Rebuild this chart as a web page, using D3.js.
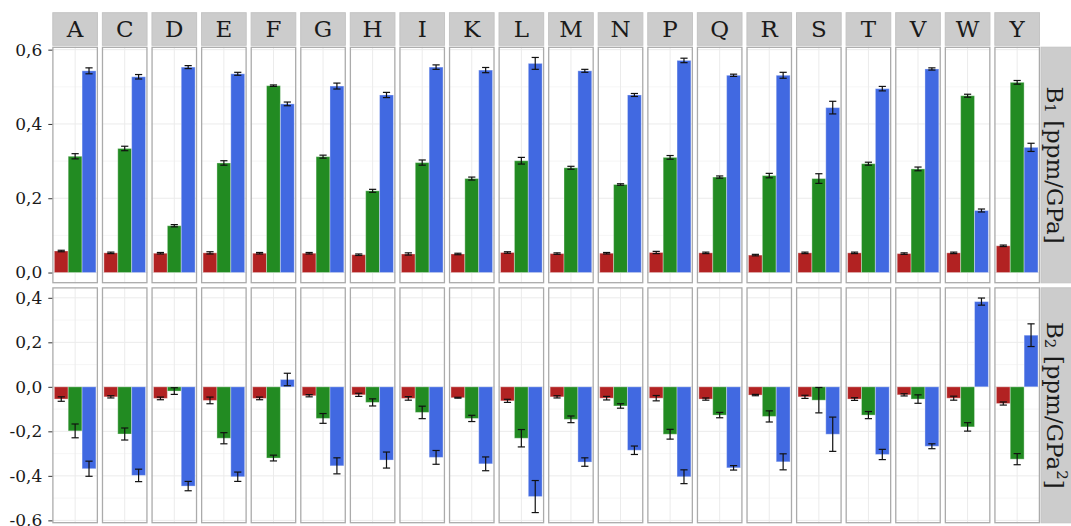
<!DOCTYPE html>
<html>
<head>
<meta charset="utf-8">
<script src="https://cdn.jsdelivr.net/npm/d3@7"></script>
<style>
  html, body { margin: 0; padding: 0; background: #ffffff; }
  svg { display: block; }
  text { font-family: "DejaVu Serif", "Liberation Serif", serif; }
</style>
</head>
<body>
<svg id="chart" width="1071" height="526"></svg>
<script>
// Residues shown as facet columns
const categories = ["A","C","D","E","F","G","H","I","K","L","M","N","P","Q","R","S","T","V","W","Y"];
const seriesKeys = ["s1", "s2", "s3"];

// B1 coefficients [ppm/GPa] and their uncertainties
const b1S1    = [0.058,0.053,0.052,0.053,0.052,0.052,0.048,0.050,0.050,0.054,0.051,0.052,0.054,0.053,0.047,0.053,0.053,0.051,0.053,0.072];
const b1S1Err = [0.002,0.002,0.002,0.003,0.002,0.002,0.002,0.003,0.002,0.002,0.002,0.002,0.003,0.002,0.002,0.002,0.002,0.002,0.002,0.002];
const b1S2    = [0.313,0.334,0.126,0.295,0.503,0.312,0.220,0.296,0.253,0.301,0.282,0.237,0.310,0.257,0.261,0.253,0.293,0.279,0.476,0.512];
const b1S2Err = [0.007,0.006,0.003,0.006,0.002,0.004,0.004,0.007,0.004,0.009,0.004,0.002,0.005,0.003,0.006,0.013,0.004,0.005,0.004,0.005];
const b1S3    = [0.543,0.527,0.553,0.535,0.454,0.502,0.478,0.553,0.545,0.563,0.543,0.478,0.571,0.531,0.531,0.444,0.495,0.548,0.167,0.337];
const b1S3Err = [0.008,0.006,0.004,0.004,0.005,0.008,0.007,0.006,0.007,0.016,0.004,0.004,0.006,0.003,0.008,0.017,0.006,0.003,0.004,0.011];

// B2 coefficients [ppm/GPa^2] and their uncertainties
const b2S1    = [-0.055,-0.045,-0.052,-0.061,-0.052,-0.040,-0.036,-0.052,-0.049,-0.063,-0.045,-0.051,-0.051,-0.055,-0.037,-0.045,-0.055,-0.036,-0.051,-0.075];
const b2S1Err = [0.010,0.005,0.006,0.015,0.006,0.005,0.007,0.008,0.002,0.007,0.005,0.008,0.012,0.005,0.003,0.007,0.006,0.005,0.009,0.007];
const b2S2    = [-0.198,-0.212,-0.019,-0.231,-0.320,-0.142,-0.070,-0.115,-0.142,-0.231,-0.146,-0.086,-0.213,-0.127,-0.133,-0.060,-0.127,-0.055,-0.180,-0.325];
const b2S2Err = [0.031,0.027,0.015,0.025,0.013,0.022,0.016,0.028,0.014,0.039,0.015,0.010,0.022,0.012,0.025,0.057,0.016,0.019,0.019,0.025];
const b2S3    = [-0.368,-0.398,-0.446,-0.404,0.033,-0.355,-0.329,-0.317,-0.346,-0.493,-0.338,-0.285,-0.404,-0.364,-0.337,-0.213,-0.304,-0.267,0.383,0.232];
const b2S3Err = [0.034,0.028,0.021,0.021,0.028,0.036,0.036,0.031,0.031,0.072,0.019,0.019,0.031,0.010,0.036,0.077,0.023,0.011,0.016,0.051];

// Tick values per row
const b1Ticks = [0.0, 0.2, 0.4, 0.6];
const b2Ticks = [-0.6, -0.4, -0.2, 0.0, 0.2, 0.4];

const seriesColors = ["#b22222", "#228b22", "#4169e1"];

// Build a long table for each facet row
function buildRows(vals, errs) {
  const rows = [];
  categories.forEach((cat, i) => {
    seriesKeys.forEach((key, j) => {
      rows.push({ cat, key, value: vals[j][i], err: errs[j][i] });
    });
  });
  return rows;
}

const facetRows = [
  {
    data: buildRows([b1S1, b1S2, b1S3], [b1S1Err, b1S2Err, b1S3Err]),
    ticks: b1Ticks,
    top: 46.7, bottom: 283.3,
    label: [["B", 0, 23], ["1", 5, 15], [" [ppm/GPa]", -5, 23]]
  },
  {
    data: buildRows([b2S1, b2S2, b2S3], [b2S1Err, b2S2Err, b2S3Err]),
    ticks: b2Ticks,
    top: 287.3, bottom: 523.3,
    label: [["B", 0, 23], ["2", 5, 15], [" [ppm/GPa", -5, 23], ["2", -7, 15], ["]", 7, 23]]
  }
];

const svg = d3.select("#chart");

const panelLeft = 52.3, panelRight = 1040;
const x = d3.scaleBand()
  .domain(categories)
  .range([panelLeft, panelRight])
  .paddingInner(0.079)
  .paddingOuter(0);

const xInner = d3.scaleBand()
  .domain(seriesKeys)
  .range([0, x.bandwidth()])
  .paddingInner(0)
  .paddingOuter(0.145);

const color = d3.scaleOrdinal().domain(seriesKeys).range(seriesColors);

const locale = d3.formatLocale({ decimal: ",", thousands: ".", grouping: [3], currency: ["", ""], minus: "-" });
const fmt = locale.format(".1f");

// Top strips with residue names
const stripTop = 12.7, stripBottom = 45.3;
const strips = svg.append("g");
strips.selectAll("rect")
  .data(categories)
  .join("rect")
  .attr("x", d => x(d) + 0.5)
  .attr("y", stripTop)
  .attr("width", x.bandwidth() - 1)
  .attr("height", stripBottom - stripTop)
  .attr("fill", "#cccccc")
  .attr("stroke", "#c4c4c4")
  .attr("stroke-width", 1);
strips.selectAll("text")
  .data(categories)
  .join("text")
  .attr("x", d => x(d) + x.bandwidth() / 2)
  .attr("y", (stripTop + stripBottom) / 2)
  .attr("text-anchor", "middle")
  .attr("dominant-baseline", "central")
  .attr("font-size", 23)
  .attr("fill", "#1a1a1a")
  .text(d => d);

facetRows.forEach(row => {
  const lo = d3.min(row.data, d => Math.min(0, d.value - d.err));
  const hi = d3.max(row.data, d => Math.max(0, d.value + d.err));
  const pad = (hi - lo) * 0.05;
  const y = d3.scaleLinear().domain([lo - pad, hi + pad]).range([row.bottom, row.top]);

  // minor grid values halfway between ticks
  const step = row.ticks[1] - row.ticks[0];
  const minor = [];
  for (let v = row.ticks[0] - step / 2; v <= hi + pad; v += step) {
    if (v >= lo - pad) minor.push(v);
  }

  categories.forEach(cat => {
    const g = svg.append("g").attr("transform", `translate(${x(cat)},0)`);
    const w = x.bandwidth();

    g.append("rect")
      .attr("x", 0).attr("y", row.top)
      .attr("width", w).attr("height", row.bottom - row.top)
      .attr("fill", "#ffffff");

    g.selectAll(".minor")
      .data(minor)
      .join("line")
      .attr("x1", 0).attr("x2", w)
      .attr("y1", d => y(d)).attr("y2", d => y(d))
      .attr("stroke", "#f4f4f4").attr("stroke-width", 0.8);

    g.selectAll(".major")
      .data(row.ticks)
      .join("line")
      .attr("x1", 0).attr("x2", w)
      .attr("y1", d => y(d)).attr("y2", d => y(d))
      .attr("stroke", "#ebebeb").attr("stroke-width", 1);

    g.append("line")
      .attr("x1", w / 2).attr("x2", w / 2)
      .attr("y1", row.top).attr("y2", row.bottom)
      .attr("stroke", "#ebebeb").attr("stroke-width", 1);

    const sub = row.data.filter(d => d.cat === cat);

    g.selectAll(".bar")
      .data(sub)
      .join("rect")
      .attr("x", d => xInner(d.key))
      .attr("width", xInner.bandwidth())
      .attr("y", d => y(Math.max(0, d.value)))
      .attr("height", d => Math.abs(y(d.value) - y(0)))
      .attr("fill", d => color(d.key))
      .attr("stroke", "rgba(255,255,255,0.35)")
      .attr("stroke-width", 1);

    const cap = 3.6;
    const eb = g.selectAll(".eb")
      .data(sub)
      .join("g")
      .attr("stroke", "#111111")
      .attr("stroke-width", 1.2);
    eb.append("line")
      .attr("x1", d => xInner(d.key) + xInner.bandwidth() / 2)
      .attr("x2", d => xInner(d.key) + xInner.bandwidth() / 2)
      .attr("y1", d => y(d.value - d.err))
      .attr("y2", d => y(d.value + d.err));
    eb.append("line")
      .attr("x1", d => xInner(d.key) + xInner.bandwidth() / 2 - cap)
      .attr("x2", d => xInner(d.key) + xInner.bandwidth() / 2 + cap)
      .attr("y1", d => y(d.value - d.err))
      .attr("y2", d => y(d.value - d.err));
    eb.append("line")
      .attr("x1", d => xInner(d.key) + xInner.bandwidth() / 2 - cap)
      .attr("x2", d => xInner(d.key) + xInner.bandwidth() / 2 + cap)
      .attr("y1", d => y(d.value + d.err))
      .attr("y2", d => y(d.value + d.err));

    g.append("rect")
      .attr("x", 0.6).attr("y", row.top + 0.6)
      .attr("width", w - 1.2).attr("height", row.bottom - row.top - 1.2)
      .attr("fill", "none")
      .attr("stroke", "#ababab")
      .attr("stroke-width", 1.3);
  });

  // y axis on the left of the first column
  const axis = svg.append("g")
    .attr("transform", `translate(${panelLeft},0)`)
    .call(d3.axisLeft(y).tickValues(row.ticks).tickFormat(fmt).tickSize(4).tickPadding(6));
  axis.select(".domain").remove();
  axis.selectAll(".tick line").attr("stroke", "#333333").attr("stroke-width", 1);
  axis.selectAll(".tick text")
    .attr("font-family", "DejaVu Serif, serif")
    .attr("font-size", 17)
    .attr("fill", "#1a1a1a");

  // right-hand strip with the row label
  const sx = 1041;
  svg.append("rect")
    .attr("x", sx).attr("y", row.top + 0.5)
    .attr("width", 40).attr("height", row.bottom - row.top - 1)
    .attr("fill", "#cccccc")
    .attr("stroke", "#c4c4c4")
    .attr("stroke-width", 1);
  const t = svg.append("text")
    .attr("transform", `translate(${sx + 14},${(row.top + row.bottom) / 2}) rotate(90)`)
    .attr("text-anchor", "middle")
    .attr("dominant-baseline", "central")
    .attr("fill", "#1a1a1a");
  row.label.forEach(([txt, dy, size]) => {
    t.append("tspan").text(txt).attr("font-size", size).attr("dy", dy);
  });
});
</script>
</body>
</html>
